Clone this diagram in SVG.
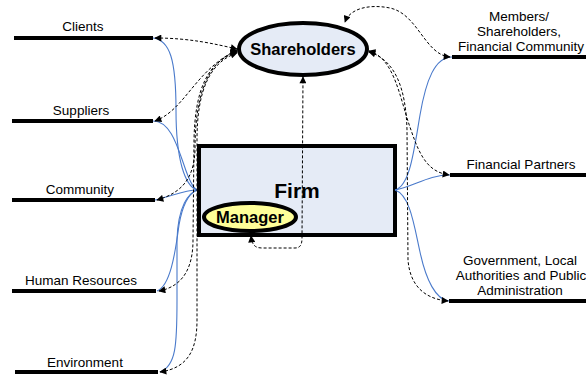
<svg xmlns="http://www.w3.org/2000/svg" width="586" height="376" viewBox="0 0 586 376">
<defs>
<marker id="ah" viewBox="0 0 10 10" refX="9" refY="5" markerWidth="9" markerHeight="7" markerUnits="userSpaceOnUse" orient="auto-start-reverse">
<path d="M0,0 L10,5 L0,10 z" fill="#000"/>
</marker>
<style>
.bar{stroke:#000;stroke-width:4;fill:none}
.lbl{font-family:"Liberation Sans",Arial,sans-serif;font-size:13.5px;fill:#000;text-anchor:middle}
.big{font-family:"Liberation Sans",Arial,sans-serif;font-weight:bold;fill:#000;text-anchor:middle}
.blue{stroke:#4a7acb;stroke-width:1.1;fill:none}
.dash{stroke:#000;stroke-width:1;stroke-dasharray:3,2;fill:none;marker-start:url(#ah);marker-end:url(#ah)}
</style>
</defs>
<rect width="586" height="376" fill="#fff"/>
<g id="clients"><line class="bar" x1="14" y1="38" x2="153" y2="38"/><text class="lbl" x="83" y="31">Clients</text></g>
<g id="suppliers"><line class="bar" x1="12" y1="121" x2="153" y2="121"/><text class="lbl" x="81" y="115">Suppliers</text></g>
<g id="community"><line class="bar" x1="12" y1="200" x2="155" y2="200"/><text class="lbl" x="80" y="194">Community</text></g>
<g id="hr"><line class="bar" x1="12" y1="291" x2="156" y2="291"/><text class="lbl" x="81" y="285">Human Resources</text></g>
<g id="environment"><line class="bar" x1="15" y1="372" x2="158" y2="372"/><text class="lbl" x="85" y="367">Environment</text></g>
<g id="members"><line class="bar" x1="452" y1="57" x2="586" y2="57"/><text class="lbl" x="519" y="21">Members/</text><text class="lbl" x="519" y="36">Shareholders,</text><text class="lbl" x="521" y="51">Financial Community</text></g>
<g id="finpartners"><line class="bar" x1="450" y1="175" x2="586" y2="175"/><text class="lbl" x="521" y="169">Financial Partners</text></g>
<g id="government"><line class="bar" x1="449" y1="301" x2="586" y2="301"/><text class="lbl" x="520" y="265">Government, Local</text><text class="lbl" x="521" y="280">Authorities and Public</text><text class="lbl" x="520" y="295">Administration</text></g>
<g id="shareholders"><ellipse cx="303" cy="49" rx="64" ry="26" fill="#e5ebf6" stroke="#000" stroke-width="4"/><text class="big" x="303" y="55" font-size="16.5">Shareholders</text></g>
<g id="firm"><rect x="199" y="146" width="196" height="89" fill="#e5ebf6" stroke="#000" stroke-width="4"/><text class="big" x="297" y="198" font-size="21">Firm</text></g>
<g id="manager"><ellipse cx="250" cy="217" rx="46" ry="14" fill="#ffff99" stroke="#000" stroke-width="4"/><text class="big" x="250" y="223" font-size="16.5">Manager</text></g>
<g id="connectors">
<path class="blue" d="M153,38 C170,40 176,60 176,110 C176,160 185,186 197,190"/>
<path class="blue" d="M153,121 C170,121 177,145 184,165 C189,180 193,188 197,190"/>
<path class="blue" d="M155,200 C172,196 185,190 197,190"/>
<path class="blue" d="M157,291 C170,286 175,255 179,225 C183,202 190,193 197,190"/>
<path class="blue" d="M160,372 C176,366 177,345 177,300 L177,240 C178,205 189,193 197,190"/>
<path class="blue" d="M395,190 C410,186 414,150 420,115 C426,80 435,57 452,57"/>
<path class="blue" d="M395,190 C415,186 428,175 450,175"/>
<path class="blue" d="M395,190 C410,195 414,225 420,252 C426,280 436,300 449,301"/>
<path class="dash" d="M155,38 C190,38 215,44 237,49"/>
<path class="dash" d="M155,121 C185,110 195,70 237,50"/>
<path class="dash" d="M157,200 C185,192 194,175 195,150 C195,100 205,62 237,51"/>
<path class="dash" d="M159,291 C185,286 193,265 193,240 L194,140 C195,90 207,62 237,52"/>
<path class="dash" d="M160,372 C188,368 197,350 197,320 L197,140 C197,90 210,62 237,53"/>
<path class="dash" d="M450,57 C425,55 418,14 390,8 C370,4 350,8 345,22"/>
<path class="dash" d="M369,51 C395,58 400,100 411,130 C421,160 430,172 449,175"/>
<path class="dash" d="M369,52 C396,60 406,90 407,130 L408,260 C410,286 425,299 448,301"/>
<path class="dash" d="M251,236 C252,245 255,248 262,248 L295,248 C300,248 302,245 302,238 L303,77"/>
</g>
</svg>
